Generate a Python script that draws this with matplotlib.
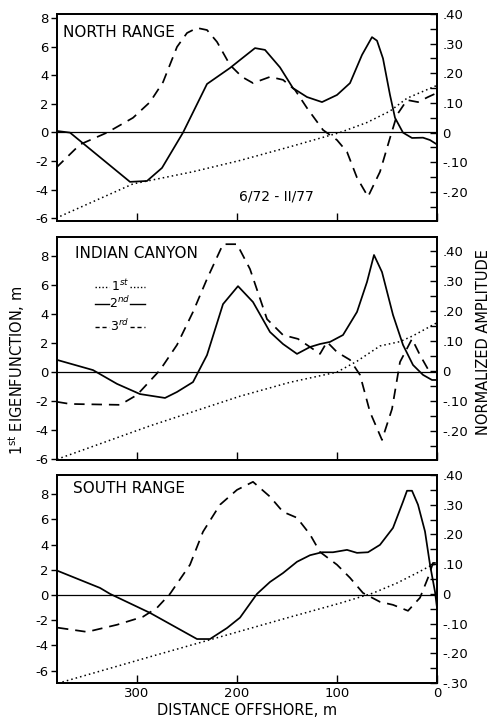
import matplotlib
matplotlib.use("Agg")
import matplotlib.pyplot as plt
from matplotlib.ticker import FixedLocator, FixedFormatter

plt.rcParams['font.family'] = ['DejaVu Sans']

# ---------------- data (distance offshore in m) ----------------
# NORTH RANGE
north_d1 = [381, 304, 244, 197, 147, 97, 70, 47, 30, 0]
north_v1 = [-6.0, -3.6, -2.75, -1.96, -1.0, 0.0, 0.7, 1.5, 2.4, 3.3]
north_d2 = [381, 367, 307, 290, 275, 254, 230, 207, 197, 182, 172, 157, 144, 130,
            115, 100, 87, 75, 65, 60, 54, 47, 42, 34, 25, 14, 7, 0]
north_v2 = [0.006, 0.0, -0.166, -0.163, -0.119, 0.0, 0.164, 0.218, 0.245, 0.285,
            0.279, 0.22, 0.15, 0.12, 0.103, 0.127, 0.167, 0.262, 0.322, 0.31,
            0.25, 0.127, 0.05, 0.0, -0.018, -0.017, -0.025, -0.04]
north_d3 = [381, 357, 330, 304, 287, 274, 260, 250, 240, 230, 220, 207, 195, 184,
            167, 154, 142, 130, 114, 100, 90, 80, 69, 57, 47, 40, 30, 19, 9, 0]
north_v3 = [-0.119, -0.04, 0.0, 0.05, 0.103, 0.17, 0.289, 0.336, 0.353, 0.346,
            0.306, 0.228, 0.188, 0.167, 0.188, 0.178, 0.144, 0.083, 0.009, -0.025,
            -0.065, -0.152, -0.216, -0.132, -0.018, 0.06, 0.11, 0.103, 0.12, 0.134]

# INDIAN CANYON
indian_d1 = [380, 287, 197, 147, 100, 80, 57, 37, 24, 0]
indian_v1 = [-6.0, -3.7, -1.66, -0.7, 0.0, 0.75, 1.8, 2.1, 2.5, 3.4]
indian_d2 = [380, 344, 320, 297, 272, 260, 244, 230, 214, 199, 184, 167, 154, 140,
             127, 117, 107, 94, 80, 70, 63, 55, 44, 34, 24, 14, 5, 0]
indian_v2 = [0.037, 0.003, -0.043, -0.077, -0.09, -0.07, -0.037, 0.053, 0.223,
             0.283, 0.23, 0.13, 0.09, 0.057, 0.08, 0.09, 0.097, 0.12, 0.197, 0.297,
             0.387, 0.33, 0.187, 0.087, 0.02, -0.013, -0.03, -0.03]
indian_d3 = [380, 367, 317, 300, 277, 260, 244, 230, 214, 200, 187, 170, 154, 139,
             127, 117, 110, 100, 87, 77, 67, 55, 45, 37, 25, 17, 8]
indian_v3 = [-0.103, -0.11, -0.113, -0.08, 0.003, 0.087, 0.197, 0.307, 0.423,
             0.423, 0.34, 0.173, 0.12, 0.107, 0.08, 0.057, 0.097, 0.063, 0.037,
             -0.013, -0.137, -0.23, -0.127, 0.03, 0.107, 0.053, 0.0]

# SOUTH RANGE
south_d1 = [379, 287, 187, 147, 97, 64, 40, 20, 7, 0]
south_v1 = [-7.0, -4.9, -2.65, -1.75, -0.65, 0.15, 0.95, 1.75, 2.3, 2.5]
south_d2 = [379, 337, 327, 287, 240, 227, 210, 197, 180, 167, 154, 140, 127, 115,
            104, 90, 80, 69, 57, 44, 34, 30, 25, 19, 12, 7, 2, 0]
south_v2 = [0.077, 0.02, 0.0, -0.064, -0.152, -0.152, -0.115, -0.08, 0.0, 0.04,
            0.07, 0.108, 0.13, 0.14, 0.14, 0.148, 0.138, 0.14, 0.165, 0.222, 0.31,
            0.347, 0.347, 0.3, 0.21, 0.098, 0.007, -0.047]
south_d3 = [379, 350, 320, 294, 280, 267, 247, 234, 217, 200, 184, 167, 154, 140,
            127, 117, 100, 87, 74, 57, 44, 29, 17, 9, 4, 0]
south_v3 = [-0.114, -0.128, -0.104, -0.077, -0.047, 0.0, 0.098, 0.209, 0.3, 0.35,
            0.377, 0.327, 0.276, 0.256, 0.2, 0.141, 0.098, 0.054, 0.003, -0.027,
            -0.037, -0.057, -0.013, 0.054, 0.104, 0.104]

panel_names = ["NORTH RANGE", "INDIAN CANYON", "SOUTH RANGE"]
left_ticks = [-6, -4, -2, 0, 2, 4, 6, 8]
right_ticks = [-0.30, -0.20, -0.10, 0.0, 0.10, 0.20, 0.30, 0.40]
right_ticklabels = ["-.30", "-.20", "-.10", "0", ".10", ".20", ".30", ".40"]
x_ticks = [300, 200, 100, 0]
x_ticklabels = ["300", "200", "100", "0"]

# ---------------- layout ----------------
W, H = 494, 725
fig = plt.figure(figsize=(W / 100, H / 100), dpi=100)

def frac_rect(top_px, bot_px):
    return [57 / W, 1 - bot_px / H, 380 / W, (bot_px - top_px) / H]

rects = [frac_rect(14, 221), frac_rect(237, 460), frac_rect(475, 683)]
left_lims = [(-6.2, 8.3), (-6.05, 9.3), (-6.98, 9.52)]
right_lims = [(-0.298, 0.40), (-0.297, 0.447), (-0.30, 0.40)]
right_labelled = [[-0.20, -0.10, 0.0, 0.10, 0.20, 0.30, 0.40],
                  [-0.20, -0.10, 0.0, 0.10, 0.20, 0.30, 0.40],
                  right_ticks]
title_pos = [(0.016, 0.913), (0.047, 0.924), (0.042, 0.933)]

data = [
    (north_d1, north_v1, north_d2, north_v2, north_d3, north_v3),
    (indian_d1, indian_v1, indian_d2, indian_v2, indian_d3, indian_v3),
    (south_d1, south_v1, south_d2, south_v2, south_d3, south_v3),
]

lw = 1.25
tick_fs = 9.5

for i in range(3):
    d1, v1, d2, v2, d3, v3 = data[i]
    ax = fig.add_axes(rects[i])
    ax2 = ax.twinx()
    ax.set_xlim(380, 0)
    ax.set_ylim(*left_lims[i])
    ax2.set_ylim(*right_lims[i])

    ax.axhline(0, color='black', lw=0.9)
    ax.plot(d1, v1, color='black', lw=1.1, linestyle=(0, (1, 2.0)))
    ax2.plot(d2, v2, color='black', lw=lw, linestyle='-')
    ax2.plot(d3, v3, color='black', lw=lw, linestyle=(0, (6, 4)))

    for sp in ax.spines.values():
        sp.set_linewidth(1.3)
    for sp in ax2.spines.values():
        sp.set_linewidth(1.3)

    # left axis
    ax.yaxis.set_major_locator(FixedLocator(left_ticks))
    ax.set_yticklabels([str(t) for t in left_ticks])
    ax.tick_params(axis='y', direction='out', length=4, width=1.0,
                   labelsize=tick_fs, pad=2)
    # x axis
    ax.xaxis.set_major_locator(FixedLocator(x_ticks))
    ax.tick_params(axis='x', direction='in', length=6, width=1.0,
                   labelsize=tick_fs, pad=3)
    if i < 2:
        ax.tick_params(axis='x', labelbottom=False)
    else:
        ax.set_xticklabels(x_ticklabels)
        ax.set_xlabel("DISTANCE OFFSHORE, m", fontsize=10.5, labelpad=2)

    # right axis
    labs = right_labelled[i]
    ax2.yaxis.set_major_locator(FixedLocator(labs))
    ax2.yaxis.set_major_formatter(FixedFormatter(
        [right_ticklabels[right_ticks.index(t)] for t in labs]))
    ax2.yaxis.set_minor_locator(FixedLocator(
        [-0.25, -0.15, -0.05, 0.05, 0.15, 0.25, 0.35]))
    ax2.tick_params(axis='y', which='major', direction='in', length=5,
                    width=1.0, labelsize=tick_fs, pad=4)
    ax2.tick_params(axis='y', which='minor', direction='in', length=5,
                    width=1.0)

    ax.text(title_pos[i][0], title_pos[i][1], panel_names[i],
            transform=ax.transAxes, fontsize=11, ha='left', va='center',
            zorder=5)

    if i == 0:
        ax.text(0.576, 0.116, "6/72 - II/77", transform=ax.transAxes,
                fontsize=10, ha='center', va='center')
    if i == 1:
        rows = [(0.776, r"$1^{st}$", (0, (1, 1.5))),
                (0.700, r"$2^{nd}$", '-'),
                (0.596, r"$3^{rd}$", (0, (3, 2)))]
        for y, txt, ls in rows:
            ax.plot([0.100, 0.138], [y, y], transform=ax.transAxes,
                    color='black', lw=1.0, linestyle=ls)
            ax.plot([0.192, 0.232], [y, y], transform=ax.transAxes,
                    color='black', lw=1.0, linestyle=ls)
            ax.text(0.165, y + 0.005, txt, transform=ax.transAxes,
                    fontsize=9, ha='center', va='center', style='italic')

fig.text(17 / W, 1 - 370 / H, r"1$^{\mathrm{st}}$ EIGENFUNCTION, m",
         rotation=90, ha='center', va='center', fontsize=10.5)
fig.text(483 / W, 1 - 342 / H, "NORMALIZED AMPLITUDE",
         rotation=90, ha='center', va='center', fontsize=10.5)

fig.savefig("out.png", dpi=100, facecolor='white')
